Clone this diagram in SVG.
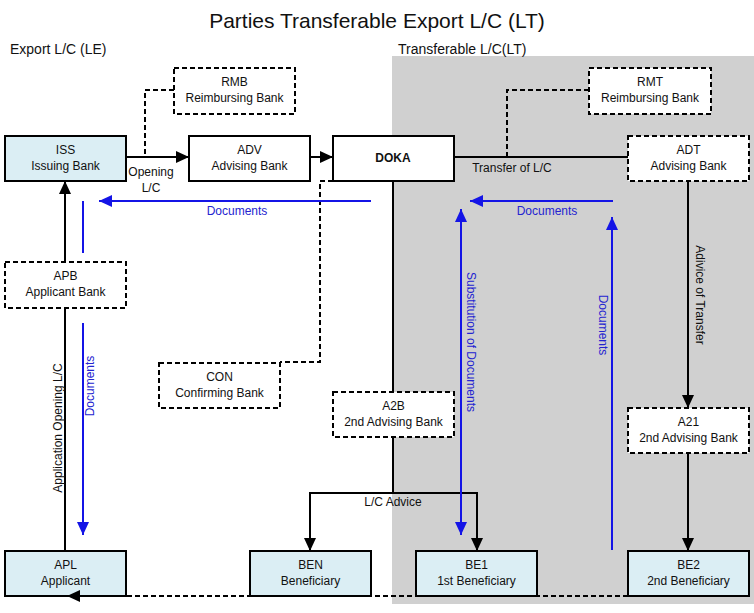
<svg xmlns="http://www.w3.org/2000/svg" width="754" height="613" viewBox="0 0 754 613">
<style>
text{font-family:"Liberation Sans",Arial,sans-serif;font-size:12px;fill:#111;text-anchor:middle}
.box{fill:#fff;stroke:#000;stroke-width:2}
.blue{fill:#dbeef4}
.dash{stroke-dasharray:5 3}
.ln{fill:none;stroke:#000;stroke-width:2}
.bl{fill:none;stroke:#1414e6;stroke-width:2}
.bt{fill:#2424d0}
.hd{font-size:14px;text-anchor:start}
</style>
<defs>
<marker id="ak" markerUnits="userSpaceOnUse" markerWidth="13" markerHeight="12" refX="13" refY="6" orient="auto-start-reverse"><path d="M0,0L13,6L0,12z" fill="#000"/></marker>
<marker id="ab" markerUnits="userSpaceOnUse" markerWidth="13" markerHeight="12" refX="13" refY="6" orient="auto-start-reverse"><path d="M0,0L13,6L0,12z" fill="#1414e6"/></marker>
</defs>
<rect x="0" y="0" width="754" height="613" fill="#fff"/>
<rect x="392" y="56" width="362" height="548" fill="#d0d0d0"/>
<text x="377" y="28" style="font-size:21px">Parties Transferable Export L/C (LT)</text>
<text class="hd" x="10" y="54">Export  L/C (LE)</text>
<text class="hd" x="398" y="54">Transferable L/C(LT)</text>

<g id="connectors">
<path class="ln dash" d="M174,90H145V157"/>
<path class="ln dash" d="M589,90H507V157"/>
<path class="ln" d="M126,157H189" marker-end="url(#ak)"/>
<path class="ln" d="M310,157H333" marker-end="url(#ak)"/>
<path class="ln" d="M454,157H628"/>
<path class="ln" d="M65,262V181" marker-end="url(#ak)"/>
<path class="ln" d="M65,308V551"/>
<path class="ln dash" d="M333,181H320V362H280"/>
<path class="ln" d="M393,181V392"/>
<path class="ln" d="M393,437V493H310V551" marker-end="url(#ak)"/>
<path class="ln" d="M393,493H477V551" marker-end="url(#ak)"/>
<path class="ln" d="M688,181V408" marker-end="url(#ak)"/>
<path class="ln" d="M688,453V551" marker-end="url(#ak)"/>
<path class="bl" d="M371,201H99" marker-end="url(#ab)"/>
<path class="bl" d="M83,201V253"/>
<path class="bl" d="M83,323V535" marker-end="url(#ab)"/>
<path class="bl" d="M613,201H470" marker-end="url(#ab)"/>
<path class="bl" d="M461,209V535" marker-start="url(#ab)" marker-end="url(#ab)"/>
<path class="bl" d="M612,550V217" marker-end="url(#ab)"/>
<text x="151" y="176">Opening</text>
<text x="151" y="192">L/C</text>
<text x="512" y="172">Transfer of L/C</text>
<text class="bt" x="237" y="215">Documents</text>
<text class="bt" x="547" y="215">Documents</text>
<text transform="translate(62,428) rotate(-90)">Application Opening L/C</text>
<text class="bt" transform="translate(94,386) rotate(-90)">Documents</text>
<text class="bt" transform="translate(467,342) rotate(90)">Substitution of Documents</text>
<text class="bt" transform="translate(599,325) rotate(90)">Documents</text>
<text transform="translate(696,295) rotate(90)">Adivice of Transfer</text>
<text x="393" y="506">L/C Advice</text>
</g>

<g id="RMB"><rect class="box dash" x="174" y="68" width="121" height="46"/><text x="234.5" y="86">RMB</text><text x="234.5" y="102">Reimbursing Bank</text></g>
<g id="RMT"><rect class="box dash" x="589" y="68" width="122" height="46"/><text x="650" y="86">RMT</text><text x="650" y="102">Reimbursing Bank</text></g>
<g id="ISS"><rect class="box blue" x="5" y="136" width="121" height="45"/><text x="65.5" y="154">ISS</text><text x="65.5" y="170">Issuing Bank</text></g>
<g id="ADV"><rect class="box" x="189" y="136" width="121" height="45"/><text x="249.5" y="154">ADV</text><text x="249.5" y="170">Advising Bank</text></g>
<g id="DOKA"><rect class="box" x="333" y="136" width="121" height="45"/><text x="393" y="162" style="font-weight:bold">DOKA</text></g>
<g id="ADT"><rect class="box dash" x="628" y="136" width="121" height="45"/><text x="688.5" y="154">ADT</text><text x="688.5" y="170">Advising Bank</text></g>
<g id="APB"><rect class="box dash" x="5" y="262" width="121" height="46"/><text x="65.5" y="280">APB</text><text x="65.5" y="296">Applicant Bank</text></g>
<g id="CON"><rect class="box dash" x="159" y="363" width="121" height="45"/><text x="219.5" y="381">CON</text><text x="219.5" y="397">Confirming Bank</text></g>
<g id="A2B"><rect class="box dash" x="333" y="392" width="121" height="45"/><text x="393.5" y="410">A2B</text><text x="393.5" y="426">2nd Advising Bank</text></g>
<g id="A21"><rect class="box dash" x="628" y="408" width="121" height="45"/><text x="688.5" y="426">A21</text><text x="688.5" y="442">2nd Advising Bank</text></g>
<g id="APL"><rect class="box blue" x="5" y="551" width="121" height="45"/><text x="65.5" y="569">APL</text><text x="65.5" y="585">Applicant</text></g>
<g id="BEN"><rect class="box blue" x="250" y="551" width="121" height="45"/><text x="310.5" y="569">BEN</text><text x="310.5" y="585">Beneficiary</text></g>
<g id="BE1"><rect class="box blue" x="416" y="551" width="121" height="45"/><text x="476.5" y="569">BE1</text><text x="476.5" y="585">1st Beneficiary</text></g>
<g id="BE2"><rect class="box blue" x="628" y="551" width="121" height="45"/><text x="688.5" y="569">BE2</text><text x="688.5" y="585">2nd Beneficiary</text></g>
<g id="bottom-connector"><path class="ln dash" d="M628,596H67" marker-end="url(#ak)"/></g>
</svg>
